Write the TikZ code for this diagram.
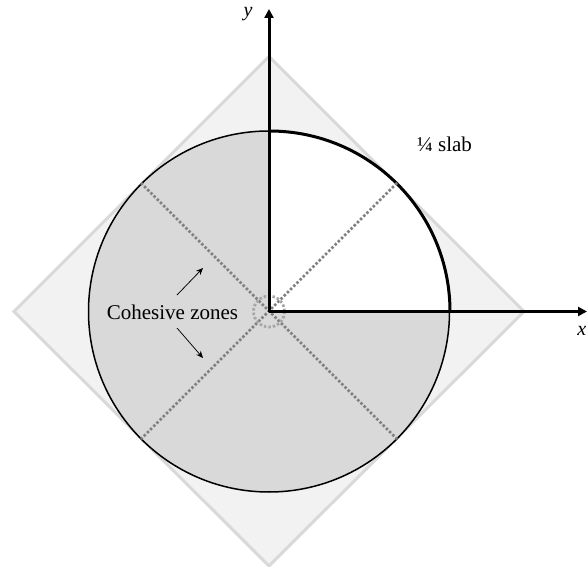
\documentclass[tikz,border=0pt]{standalone}
\usepackage{fontspec}
\setmainfont{Liberation Serif}
\usetikzlibrary{arrows.meta}
\tikzset{
  slab/.style={draw=black!15,line width=3pt,fill=black!5,line join=miter},
  disc/.style={draw=black,line width=1.5pt,fill=black!15},
  quarter/.style={fill=white},
  rim/.style={draw=black,line width=3pt},
  axis/.style={draw=black,line width=3pt,-{Triangle[length=9pt,width=9pt]}},
  crack/.style={draw=black!50,line width=2.8pt,dash pattern=on 2.5pt off 2pt},
  tipzone/.style={draw=black!35,line width=2.8pt,dash pattern=on 2.5pt off 2pt},
  pointer/.style={draw=black,line width=0.75pt,-{Stealth[length=7pt,width=6pt]}},
  lbl/.style={font=\fontsize{21}{24}\selectfont,inner sep=0pt,text=black},
  axlbl/.style={font=\fontsize{20}{23}\selectfont\itshape,inner sep=0pt,text=black},
}
\begin{document}
\begin{tikzpicture}[x=1pt,y=-1pt]
\useasboundingbox (0,0) rectangle (587,567);
\coordinate (c) at (269,311.5);
\coordinate (xend) at (587,311.5);
\coordinate (yend) at (269,9);
\coordinate (d1) at (141,183);
\coordinate (d2) at (397,439);
\coordinate (d3) at (397,183);
\coordinate (d4) at (141,439);
\coordinate (u1) at (177,295);
\coordinate (u2) at (203,268);
\coordinate (l1) at (177,328);
\coordinate (l2) at (203,358);
\path[slab] (269,56.5) -- (524,311.5) -- (269,566) -- (14,311.5) -- cycle;
\path[disc] (c) circle[radius=180.5];
\path[quarter] (c) -- (450,311.5) arc[start angle=0,end angle=-90,radius=180.5] -- cycle;
\draw[rim] (450,311.5) arc[start angle=0,end angle=-90,radius=180.5];
\draw[crack] (d1) -- (d2);
\draw[crack] (d3) -- (d4);
\draw[tipzone] (c) circle[radius=15.5];
\draw[axis] (c) -- (xend);
\draw[axis] (c) -- (yend);
\draw[pointer] (u1) -- (u2);
\draw[pointer] (l1) -- (l2);
\node[lbl] (cz) at (172.5,312) {Cohesive zones};
\node[lbl] (sl) at (444.5,144) {¼ slab};
\node[axlbl] (yl) at (248,14) {y};
\node[axlbl,anchor=east] (xl) at (586.5,331) {x};
\end{tikzpicture}
\end{document}
